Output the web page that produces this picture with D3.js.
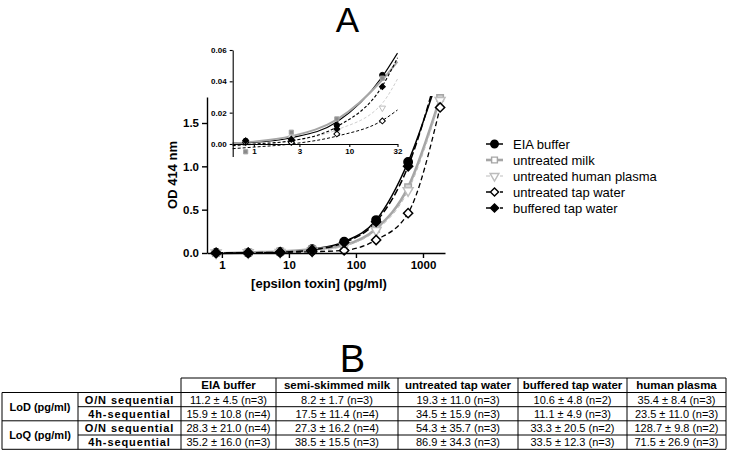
<!DOCTYPE html>
<html>
<head>
<meta charset="utf-8">
<script src="https://cdn.jsdelivr.net/npm/d3@7"></script>
<style>
  body { margin: 0; background: #fff; }
  svg { display: block; }
</style>
</head>
<body>
<script>
// toxin concentrations (pg/ml)
var conc = [0.82, 2.47, 7.4, 22.2, 66.7, 200, 600, 1800];

// mean OD 414 nm for each matrix
var eiaBuffer   = [0.002, 0.0015, 0.012, 0.044, 0.13, 0.38, 1.05, 2.1];
var untreatedMilk = [-0.005, 0.0075, 0.016, 0.042, 0.09, 0.28, 0.76, 1.79];
var humanPlasma = [0.001, 0.004, 0.008, 0.023, 0.08, 0.26, 0.72, 1.76];
var tapUntreated = [0.001, 0.001, 0.0064, 0.0147, 0.03, 0.15, 0.46, 1.68];
var tapBuffered = [0.002, 0.003, 0.0096, 0.0366, 0.12, 0.36, 1.0, 2.2];

// fitted curves
var fitConc = [0.6, 1, 2.47, 7.4, 22.2, 32];
var eiaFit     = [0.0005, 0.001, 0.004, 0.014, 0.043, 0.058];
var milkFit    = [0.0005, 0.0015, 0.005, 0.0155, 0.041, 0.0526];
var plasmaFit  = [-0.0015, -0.0005, 0.002, 0.009, 0.026, 0.0415];
var tapUFit    = [-0.003, -0.002, 0.0, 0.005, 0.015, 0.0217];
var tapBFit    = [-0.001, 0.0, 0.002, 0.011, 0.037, 0.055];

var seriesNames = ["EIA buffer", "untreated milk", "untreated human plasma", "untreated tap water", "buffered tap water"];

// ticks
var mainYTicks = [0, 0.5, 1.0, 1.5];
var mainXTicks = [1, 10, 100, 1000];
var insetYTicks = [0, 0.02, 0.04, 0.06];
var insetXTicks = [1, 3, 10, 32];

// table B
var tableHeaders = ["EIA buffer", "semi-skimmed milk", "untreated tap water", "buffered tap water", "human plasma"];
var tableGroups = ["LoD (pg/ml)", "LoQ (pg/ml)"];
var tableProtocols = ["O/N sequential", "4h-sequential"];
var lodON = ["11.2 ± 4.5 (n=3)", "8.2 ± 1.7 (n=3)", "19.3 ± 11.0 (n=3)", "10.6 ± 4.8 (n=2)", "35.4 ± 8.4 (n=3)"];
var lod4h = ["15.9 ± 10.8 (n=4)", "17.5 ± 11.4 (n=4)", "34.5 ± 15.9 (n=3)", "11.1 ± 4.9 (n=3)", "23.5 ± 11.0 (n=3)"];
var loqON = ["28.3 ± 21.0 (n=4)", "27.3 ± 16.2 (n=4)", "54.3 ± 35.7 (n=3)", "33.3 ± 20.5 (n=2)", "128.7 ± 9.8 (n=2)"];
var loq4h = ["35.2 ± 16.0 (n=3)", "38.5 ± 15.5 (n=3)", "86.9 ± 34.3 (n=3)", "33.5 ± 12.3 (n=3)", "71.5 ± 26.9 (n=3)"];

var series = [
    {name: seriesNames[0], values: eiaBuffer, fit: eiaFit, color: "#000", width: 1.5, dash: null, shape: "circle", fill: "#000"},
    {name: seriesNames[1], values: untreatedMilk, fit: milkFit, color: "#a6a6a6", width: 2.6, dash: null, shape: "square", fill: "#d4d4d4"},
    {name: seriesNames[2], values: humanPlasma, fit: plasmaFit, color: "#bdbdbd", width: 1, dash: "4,3", shape: "triangle", fill: "#fff"},
    {name: seriesNames[3], values: tapUntreated, fit: tapUFit, color: "#000", width: 1.3, dash: "5,3", shape: "diamond", fill: "#fff"},
    {name: seriesNames[4], values: tapBuffered, fit: tapBFit, color: "#000", width: 1.5, dash: "7,3", shape: "diamond", fill: "#000"}
];

var font = "'Liberation Sans', Arial, sans-serif";

var svg = d3.select("body").append("svg")
    .attr("width", 733)
    .attr("height", 463)
    .style("font-family", font);

// panel letters
svg.append("text").attr("x", 347.5).attr("y", 32)
    .attr("text-anchor", "middle")
    .style("font-size", "35px").text("A");
svg.append("text").attr("x", 352.5).attr("y", 372)
    .attr("text-anchor", "middle")
    .style("font-size", "38px").text("B");

function markerPath(shape, scale) {
    var sym;
    if (shape == "circle") sym = d3.symbol().type(d3.symbolCircle).size(55 * scale);
    else if (shape == "square") sym = d3.symbol().type(d3.symbolSquare).size(42 * scale);
    else if (shape == "triangle") sym = d3.symbol().type(d3.symbolTriangle).size(42 * scale);
    else sym = d3.symbol().type(d3.symbolSquare).size(42 * scale);
    return sym();
}
function markerRotate(shape) {
    if (shape == "triangle") return 180;
    if (shape == "diamond") return 45;
    return 0;
}

// ---------- main plot ----------
var xScale = d3.scaleLog().domain([0.6, 2130]).range([207, 445]);
var yScale = d3.scaleLinear().domain([0, 1.8]).range([253, 97]);

svg.append("clipPath").attr("id", "mainClip")
    .append("rect").attr("x", 200).attr("y", 96).attr("width", 260).attr("height", 170);

var mainLine = d3.line()
    .x(function(d) { return xScale(d[0]); })
    .y(function(d) { return yScale(d[1]); })
    .curve(d3.curveMonotoneX);

var mainG = svg.append("g");

series.forEach(function(s) {
    mainG.append("path")
        .datum(conc.map(function(c, i) { return [c, s.values[i]]; }))
        .attr("clip-path", "url(#mainClip)")
        .attr("fill", "none")
        .attr("stroke", s.color)
        .attr("stroke-width", s.width)
        .attr("stroke-dasharray", s.dash)
        .attr("d", mainLine);
});

series.forEach(function(s) {
    mainG.selectAll(null)
        .data(conc.map(function(c, i) { return [c, s.values[i]]; }).filter(function(d) { return d[1] <= 1.85; }))
        .enter()
        .append("path")
        .attr("d", markerPath(s.shape, 1))
        .attr("transform", function(d) {
            return "translate(" + xScale(d[0]) + "," + yScale(Math.max(d[1], 0)) + ") rotate(" + markerRotate(s.shape) + ")";
        })
        .attr("fill", s.fill)
        .attr("stroke", s.color)
        .attr("stroke-width", 1.5);
});

var yAxis = d3.axisLeft(yScale)
    .tickValues(mainYTicks)
    .tickFormat(d3.format(".1f"))
    .tickSize(5)
    .tickSizeOuter(0);
var xAxis = d3.axisBottom(xScale)
    .tickValues(mainXTicks)
    .tickFormat(d3.format("d"))
    .tickSize(5)
    .tickSizeOuter(0);

var gy = svg.append("g").attr("transform", "translate(207,0)").call(yAxis);
var gx = svg.append("g").attr("transform", "translate(0,253)").call(xAxis);
[gy, gx].forEach(function(g) {
    g.selectAll("path, line").attr("stroke", "#000").attr("stroke-width", 1.4);
    g.selectAll("text").style("font-family", font).style("font-size", "11.5px")
        .style("font-weight", "bold").attr("fill", "#000");
});

// axis titles
svg.append("text")
    .attr("transform", "translate(177,175) rotate(-90)")
    .attr("text-anchor", "middle")
    .style("font-size", "13px").style("font-weight", "bold")
    .text("OD 414 nm");
svg.append("text")
    .attr("x", 319).attr("y", 288)
    .attr("text-anchor", "middle")
    .style("font-size", "13px").style("font-weight", "bold")
    .text("[epsilon toxin] (pg/ml)");

// ---------- inset ----------
var xIn = d3.scaleLog().domain([0.6, 32]).range([232.7, 397.5]);
var yIn = d3.scaleLinear().domain([-0.008, 0.06]).range([156.5, 50]);

var insetLine = d3.line()
    .x(function(d) { return xIn(d[0]); })
    .y(function(d) { return yIn(d[1]); })
    .curve(d3.curveMonotoneX);

var insetG = svg.append("g");
series.forEach(function(s) {
    insetG.append("path")
        .datum(fitConc.map(function(c, i) { return [c, s.fit[i]]; }))
        .attr("fill", "none")
        .attr("stroke", s.color)
        .attr("stroke-width", s.width * 0.75)
        .attr("stroke-dasharray", s.dash ? "3,2" : null)
        .attr("d", insetLine);
});
series.forEach(function(s) {
    insetG.selectAll(null)
        .data(conc.slice(0, 4).map(function(c, i) { return [c, s.values[i]]; }))
        .enter()
        .append("path")
        .attr("d", markerPath(s.shape, 0.42))
        .attr("transform", function(d) {
            return "translate(" + xIn(d[0]) + "," + yIn(d[1]) + ") rotate(" + markerRotate(s.shape) + ")";
        })
        .attr("fill", s.fill == "#d4d4d4" ? "#8a8a8a" : s.fill)
        .attr("stroke", s.color)
        .attr("stroke-width", 1);
});

var yInAxis = d3.axisLeft(yIn)
    .tickValues(insetYTicks)
    .tickFormat(d3.format(".2f"))
    .tickSize(3)
    .tickSizeOuter(0);
var xInAxis = d3.axisBottom(xIn)
    .tickValues(insetXTicks)
    .tickFormat(d3.format("d"))
    .tickSize(3)
    .tickSizeOuter(0);

var giy = svg.append("g").attr("transform", "translate(232.7,0)").call(yInAxis);
var gix = svg.append("g").attr("transform", "translate(0," + yIn(0) + ")").call(xInAxis);
[giy, gix].forEach(function(g) {
    g.selectAll("path, line").attr("stroke", "#000").attr("stroke-width", 1.1);
    g.selectAll("text").style("font-family", font).style("font-size", "8px")
        .style("font-weight", "bold").attr("fill", "#000");
});
gix.selectAll("text").attr("y", 4);

// ---------- legend ----------
var legendY = [144, 160, 176, 192, 208];
var legend = svg.append("g");
series.forEach(function(s, i) {
    var ly = legendY[i];
    legend.append("line")
        .attr("x1", 486).attr("x2", 503)
        .attr("y1", ly).attr("y2", ly)
        .attr("stroke", s.color)
        .attr("stroke-width", s.width)
        .attr("stroke-dasharray", s.dash ? "4,3" : null);
    legend.append("path")
        .attr("d", markerPath(s.shape, 0.8))
        .attr("transform", "translate(494.5," + ly + ") rotate(" + markerRotate(s.shape) + ")")
        .attr("fill", s.shape == "square" ? "#fff" : s.fill)
        .attr("stroke", s.color)
        .attr("stroke-width", 1.4);
    legend.append("text")
        .attr("x", 513).attr("y", ly)
        .attr("dy", "0.35em")
        .style("font-size", "13px")
        .text(s.name);
});

// ---------- table ----------
var colX = [2, 78, 181, 276, 398, 518, 627, 726];
var rowY = [378, 392.5, 406.7, 420.8, 435, 449.3];
var bodyRows = [lodON, lod4h, loqON, loq4h];

var table = svg.append("g").attr("stroke", "#000").attr("stroke-width", 1);

// horizontal rules
table.append("line").attr("x1", colX[2]).attr("x2", colX[7]).attr("y1", rowY[0]).attr("y2", rowY[0]);
rowY.slice(1).forEach(function(y, i) {
    var left = (i % 2 == 1) ? colX[1] : colX[0];
    table.append("line").attr("x1", left).attr("x2", colX[7]).attr("y1", y).attr("y2", y);
});
// vertical rules
colX.forEach(function(x, i) {
    table.append("line").attr("x1", x).attr("x2", x)
        .attr("y1", i >= 2 ? rowY[0] : rowY[1]).attr("y2", rowY[5]);
});

var tText = svg.append("g").attr("text-anchor", "middle").attr("fill", "#000");
tableHeaders.forEach(function(h, j) {
    tText.append("text")
        .attr("x", (colX[j + 2] + colX[j + 3]) / 2)
        .attr("y", (rowY[0] + rowY[1]) / 2).attr("dy", "0.36em")
        .style("font-size", "11.5px").style("font-weight", "bold")
        .text(h);
});
tableGroups.forEach(function(g, k) {
    tText.append("text")
        .attr("x", (colX[0] + colX[1]) / 2)
        .attr("y", rowY[1 + 2 * k + 1]).attr("dy", "0.36em")
        .style("font-size", "11px").style("font-weight", "bold")
        .text(g);
});
bodyRows.forEach(function(row, r) {
    var cy = (rowY[r + 1] + rowY[r + 2]) / 2;
    tText.append("text")
        .attr("x", (colX[1] + colX[2]) / 2)
        .attr("y", cy).attr("dy", "0.36em")
        .style("font-size", "11px").style("font-weight", "bold")
        .style("letter-spacing", "0.9px")
        .text(tableProtocols[r % 2]);
    row.forEach(function(v, j) {
        tText.append("text")
            .attr("x", (colX[j + 2] + colX[j + 3]) / 2)
            .attr("y", cy).attr("dy", "0.36em")
            .style("font-size", "11px")
            .text(v);
    });
});
</script>
</body>
</html>
